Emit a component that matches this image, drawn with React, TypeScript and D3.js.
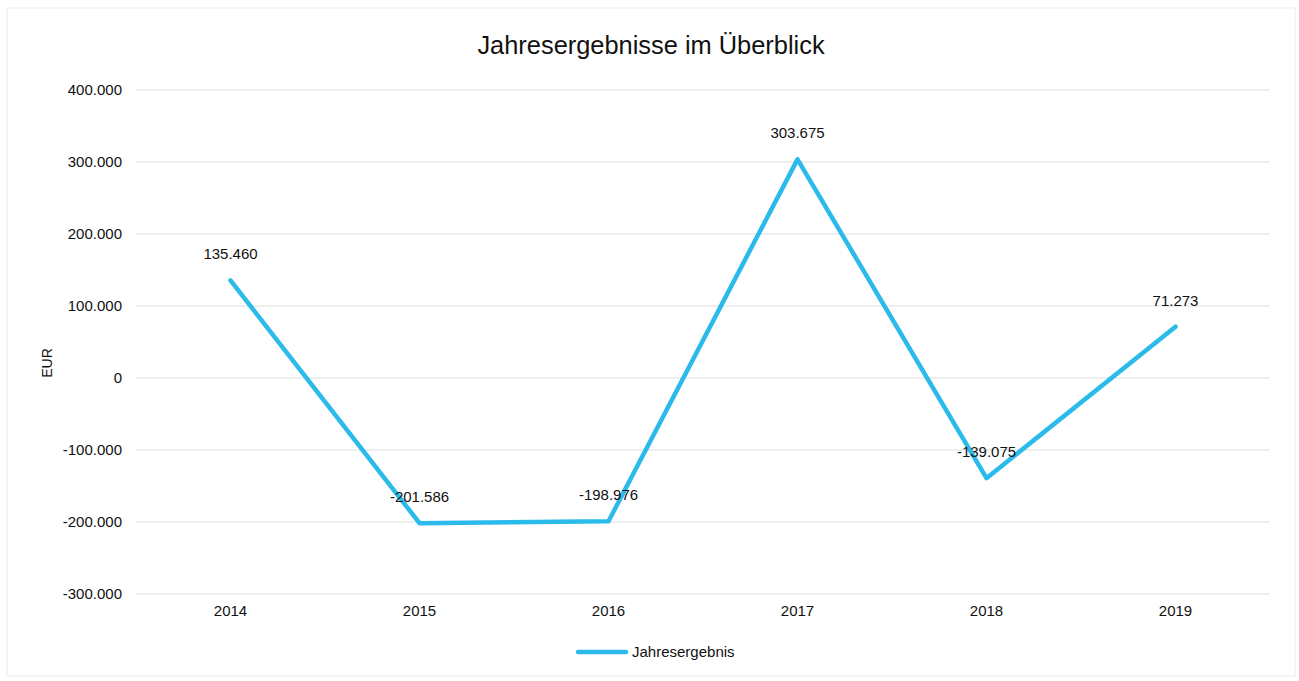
import React from "react";
import * as d3 from "d3";

const years = ["2014", "2015", "2016", "2017", "2018", "2019"];
const values = [135460, -201586, -198976, 303675, -139075, 71273];
const yTicks = [-300000, -200000, -100000, 0, 100000, 200000, 300000, 400000];
const title = "Jahresergebnisse im Überblick";
const seriesName = "Jahresergebnis";
const yAxisTitle = "EUR";

const W = 1299;
const H = 681;
const FONT = "'Liberation Sans', Arial, sans-serif";
const LINE_COLOR = "#2bbbea";

const fmt = (v: number) => {
  const s = Math.abs(v).toString().replace(/\B(?=(\d{3})+(?!\d))/g, ".");
  return (v < 0 ? "-" : "") + s;
};

export default function App() {
  const x = d3.scaleBand<string>().domain(years).range([136, 1270]);
  const y = d3.scaleLinear().domain([-300000, 400000]).range([594, 90]);
  const line = d3
    .line<number>()
    .x((_, i) => (x(years[i]) as number) + x.bandwidth() / 2)
    .y((d) => y(d));

  return (
    <svg
      width={W}
      height={H}
      style={{ position: "absolute", left: 0, top: 0, background: "#fff" }}
      fontFamily={FONT}
    >
      <rect x={7} y={8} width={1288} height={668} fill="#fff" stroke="#ececec" strokeWidth={1} />
      <text x={651} y={54} textAnchor="middle" fontSize={25.4} fill="#111">
        {title}
      </text>
      {yTicks.map((t) => (
        <g key={t}>
          <line x1={136} x2={1270} y1={y(t)} y2={y(t)} stroke="#dedede" strokeWidth={1} />
          <text x={122} y={y(t)} dy="0.35em" textAnchor="end" fontSize={15} fill="#111">
            {fmt(t)}
          </text>
        </g>
      ))}
      <text
        transform={`translate(52,${363}) rotate(-90)`}
        textAnchor="middle"
        fontSize={14}
        fill="#111"
      >
        {yAxisTitle}
      </text>
      {years.map((yr) => (
        <text
          key={yr}
          x={(x(yr) as number) + x.bandwidth() / 2}
          y={616}
          textAnchor="middle"
          fontSize={15}
          fill="#111"
        >
          {yr}
        </text>
      ))}
      <path
        d={line(values) || ""}
        fill="none"
        stroke={LINE_COLOR}
        strokeWidth={4.5}
        strokeLinejoin="round"
        strokeLinecap="round"
      />
      {values.map((v, i) => (
        <text
          key={i}
          x={(x(years[i]) as number) + x.bandwidth() / 2}
          y={y(v) - 21}
          textAnchor="middle"
          fontSize={15}
          fill="#111"
        >
          {fmt(v)}
        </text>
      ))}
      <line x1={578} x2={626} y1={652} y2={652} stroke={LINE_COLOR} strokeWidth={4.5} strokeLinecap="round" />
      <text x={632} y={657} fontSize={15} fill="#111">
        {seriesName}
      </text>
    </svg>
  );
}
